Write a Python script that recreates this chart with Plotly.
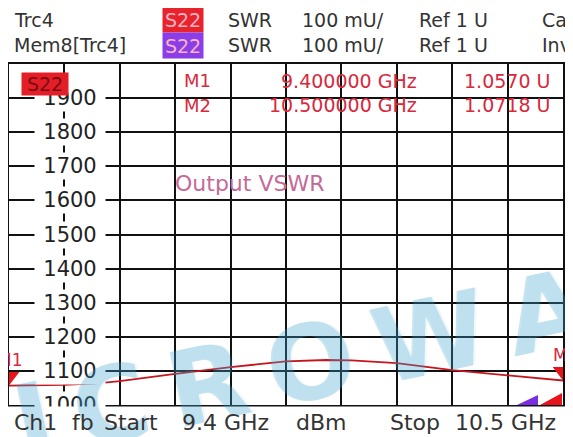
import plotly.graph_objects as go

# S22 SWR trace, Ch1 9.4 - 10.5 GHz
freq_ghz = [9.40, 9.45, 9.51, 9.58, 9.62, 9.73, 9.84, 9.95, 10.03, 10.08,
            10.17, 10.28, 10.39, 10.45, 10.50]
swr = [1.057, 1.057, 1.059, 1.064, 1.070, 1.091, 1.111, 1.128, 1.132, 1.131,
       1.123, 1.102, 1.086, 1.077, 1.0718]

marker_names = ["M1", "M2"]
marker_freq = [9.4, 10.5]
marker_swr = [1.0570, 1.0718]
marker_freq_text = ["9.400000 GHz", "10.500000 GHz"]
marker_swr_text = ["1.0570 U", "1.0718 U"]

y_ticks = [1.0, 1.1, 1.2, 1.3, 1.4, 1.5, 1.6, 1.7, 1.8, 1.9]
y_tick_text = ["1000", "1100", "1200", "1300", "1400", "1500", "1600", "1700", "1800", "1900"]

header_rows = [
    ["Trc4", "SWR", "100 mU/", "Ref 1 U", "Ca"],
    ["Mem8[Trc4]", "SWR", "100 mU/", "Ref 1 U", "Inv"],
]
footer = ["Ch1", "fb", "Start", "9.4 GHz", "dBm", "Stop", "10.5 GHz"]

# the page body adds an 8px margin, so the figure is drawn 8px smaller
OFF = 8
W, H = 573 - OFF, 437 - OFF
# plot area in page pixels
L, R, T, B = 9, 563, 64, 405
FONT = "DejaVu Sans"
RED = "#d8283c"


def px(x):
    return (x - L) / (R - L)


def py(y):
    return (B - y) / (B - T)


def label(text, x, y, size, color, xanchor="left", **kw):
    return dict(text=text, xref="paper", yref="paper", x=px(x), y=py(y),
                xanchor=xanchor, yanchor="middle", showarrow=False,
                font=dict(family=FONT, size=size, color=color), **kw)


fig = go.Figure()

fig.add_trace(go.Scatter(
    x=freq_ghz, y=swr, mode="lines",
    line=dict(color="#c4161c", width=1.8),
    hoverinfo="skip", showlegend=False
))

# marker triangles sit with their tip on the trace
r_px = 9
fig.add_trace(go.Scatter(
    x=marker_freq, y=[v + r_px / (B - T) for v in marker_swr],
    mode="markers",
    marker=dict(symbol="triangle-down", size=18, color="#e8141c"),
    cliponaxis=False, hoverinfo="skip", showlegend=False
))

ann = []

# y labels inside the grid, on white patches
for v, t in zip(y_ticks, y_tick_text):
    ann.append(dict(
        text=t, xref="paper", yref="y", x=px(70), y=v,
        xanchor="center", yanchor="middle", showarrow=False,
        font=dict(family=FONT, size=21, color="#222"),
        bgcolor="white", width=70, height=26, borderpad=0
    ))

# footer strip hides the lower half of the 1000 label
ann.append(dict(
    text="", xref="paper", yref="paper", x=0.5, y=py(423),
    xanchor="center", yanchor="middle", showarrow=False,
    bgcolor="white", width=W + 40, height=32, borderpad=0
))

# watermark, over the footer strip as on the screen shot
ann.append(dict(
    text="\u2009".join("MICROWAVE"), xref="paper", yref="paper",
    x=px(334), y=py(358), xanchor="center", yanchor="middle",
    showarrow=False, textangle=-12,
    font=dict(family=FONT, size=104, color="rgba(60,160,210,0.28)", weight="bold",
              shadow="2px 0px 0px rgba(60,160,210,0.28)")
))

footer_x = [12, 70, 102, 180, 294, 388, 453]
for t, x in zip(footer, footer_x):
    ann.append(label(t, x, 422, 22, "#333"))

# header rows
header_x = [12, 226, 300, 417, 540]
for row, y in zip(header_rows, [20, 45]):
    for t, x in zip(row, header_x):
        ann.append(label(t, x, y, 19, "#333"))
for y, c in zip([20, 45], ["#e8232b", "#8b3ee8"]):
    ann.append(label("S22", 183, y, 19, "#f9b3c2", xanchor="center",
                     bgcolor=c, width=40, height=25, borderpad=0))

# trace tag inside the grid
ann.append(label("S22", 45, 84, 19, "#7a0c12", xanchor="center",
                 bgcolor="#e41e26", width=46, height=22, borderpad=0))

# marker table
for i, y in enumerate([81, 105]):
    ann.append(label(marker_names[i], 182, y, 18, RED))
    ann.append(label(marker_freq_text[i], 419, y, 19, RED, xanchor="right"))
    ann.append(label(marker_swr_text[i], 552, y, 19, RED, xanchor="right"))

# marker labels over the triangles
for name, f, v, dx in zip(marker_names, marker_freq, marker_swr, [0, 2]):
    ann.append(dict(text=name, x=f, y=v, xshift=dx, yshift=26, showarrow=False,
                    xanchor="center", yanchor="middle",
                    font=dict(family=FONT, size=17, color=RED)))

ann.append(label("Output VSWR", 249, 183, 22, "#c56a98", xanchor="center"))

# little channel icons in the bottom right corner
shapes = [
    dict(type="path", xref="paper", yref="paper",
         path=f"M {px(517)},{py(405)} L {px(538)},{py(405)} L {px(538)},{py(395)} Z",
         fillcolor="#7a2ee0", line=dict(width=0)),
    dict(type="path", xref="paper", yref="paper",
         path=f"M {px(540)},{py(405)} L {px(562)},{py(405)} L {px(562)},{py(393)} Z",
         fillcolor="#e8141c", line=dict(width=0)),
]

fig.update_layout(
    width=W, height=H,
    margin=dict(l=L - OFF, r=W - (R - OFF), t=T - OFF, b=H - (B - OFF), autoexpand=False),
    paper_bgcolor="white", plot_bgcolor="white",
    xaxis=dict(range=[9.4, 10.5], tick0=9.4, dtick=0.11, showticklabels=False,
               ticks="", showgrid=True, gridcolor="#111", gridwidth=1.6,
               showline=True, linecolor="#111", linewidth=2, mirror=True,
               zeroline=False, fixedrange=True),
    yaxis=dict(range=[1.0, 2.0], tick0=1.0, dtick=0.1, showticklabels=False,
               ticks="", showgrid=True, gridcolor="#111", gridwidth=1.6,
               showline=True, linecolor="#111", linewidth=2, mirror=True,
               zeroline=False, fixedrange=True),
    annotations=ann,
    shapes=shapes,
    showlegend=False
)

fig.write_html("out.html")
